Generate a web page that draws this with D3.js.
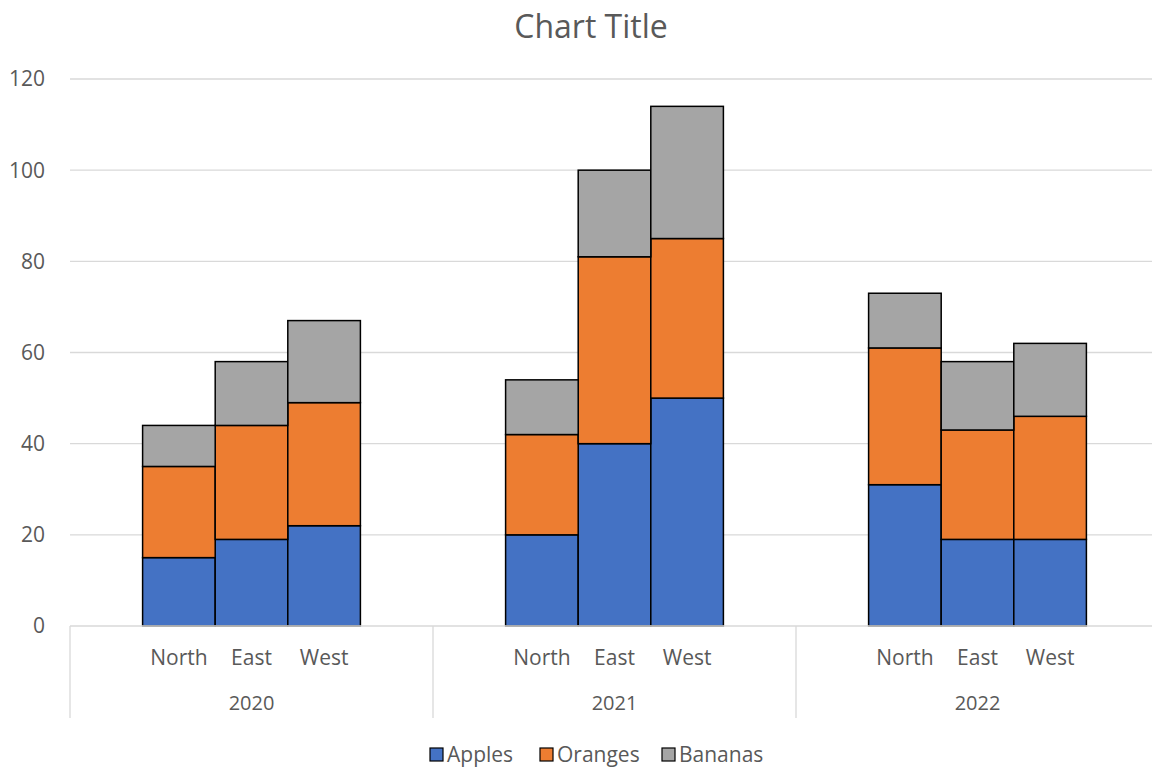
<!DOCTYPE html>
<html>
<head>
<meta charset="utf-8">
<script src="https://cdn.jsdelivr.net/npm/d3@7"></script>
<style>
  body { margin: 0; background: #fff; }
  text { font-family: "Open Sans", "Noto Sans", sans-serif; fill: #595959; }
</style>
</head>
<body>
<div class="chart"></div>
<script>
// chart data
var years = ["2020", "2021", "2022"];
var regions = ["North", "East", "West"];
var seriesNames = ["Apples", "Oranges", "Bananas"];
var apples  = [15, 19, 22, 20, 40, 50, 31, 19, 19];
var oranges = [20, 25, 27, 22, 41, 35, 30, 24, 27];
var bananas = [ 9, 14, 18, 12, 19, 29, 12, 15, 16];
var yTicks = [0, 20, 40, 60, 80, 100, 120];
var colors = ["#4472C4", "#ED7D31", "#A5A5A5"];

// svg wrapper dimensions
var svgWidth = 1152;
var svgHeight = 769;

var margin = { top: 79, right: -7, bottom: 143, left: 70 };
var width = svgWidth - margin.left - margin.right;
var height = svgHeight - margin.top - margin.bottom;

var svg = d3.select(".chart")
    .append("svg")
    .attr("width", svgWidth)
    .attr("height", svgHeight);

var chartGroup = svg.append("g")
    .attr("transform", `translate(${margin.left}, ${margin.top})`);

// build rows
var rows = [];
years.forEach(function(yr, i) {
    regions.forEach(function(rg, j) {
        var k = i * 3 + j;
        rows.push({ year: yr, region: rg, Apples: apples[k], Oranges: oranges[k], Bananas: bananas[k] });
    });
});

var stacked = d3.stack().keys(seriesNames)(rows);

// scales
var xYear = d3.scaleBand().domain(years).range([0, width]).padding(0);
// 5 slots per year: blank, North, East, West, blank
var xRegion = d3.scaleBand().domain(["_a"].concat(regions, ["_b"])).range([0, xYear.bandwidth()]).padding(0);
var yLinearScale = d3.scaleLinear().domain([0, 120]).range([height, 0]);

// gridlines
chartGroup.append("g")
    .selectAll("line")
    .data(yTicks.filter(d => d > 0))
    .enter()
    .append("line")
    .attr("x1", 0)
    .attr("x2", svgWidth - margin.left)
    .attr("y1", d => yLinearScale(d))
    .attr("y2", d => yLinearScale(d))
    .attr("stroke", "#d9d9d9")
    .attr("stroke-width", 1.3);

// y labels
chartGroup.append("g")
    .selectAll("text")
    .data(yTicks)
    .enter()
    .append("text")
    .attr("x", -25)
    .attr("y", d => yLinearScale(d))
    .attr("dy", "0.35em")
    .attr("text-anchor", "end")
    .style("font-size", "21px")
    .text(d => d);

// bars
chartGroup.selectAll("g.series")
    .data(stacked)
    .enter()
    .append("g")
    .attr("class", "series")
    .attr("fill", (d, i) => colors[i])
    .selectAll("rect")
    .data(d => d)
    .enter()
    .append("rect")
    .attr("x", d => xYear(d.data.year) + xRegion(d.data.region))
    .attr("width", xRegion.bandwidth())
    .attr("y", d => yLinearScale(d[1]))
    .attr("height", d => yLinearScale(d[0]) - yLinearScale(d[1]))
    .attr("stroke", "#000")
    .attr("stroke-width", 1.5);

// x axis line
chartGroup.append("line")
    .attr("x1", 0)
    .attr("x2", svgWidth - margin.left)
    .attr("y1", height)
    .attr("y2", height)
    .attr("stroke", "#d9d9d9")
    .attr("stroke-width", 1.3);

// group dividers
chartGroup.append("g")
    .selectAll("line")
    .data(years.concat(["end"]))
    .enter()
    .append("line")
    .attr("x1", (d, i) => i * xYear.bandwidth())
    .attr("x2", (d, i) => i * xYear.bandwidth())
    .attr("y1", height)
    .attr("y2", height + 92)
    .attr("stroke", "#d9d9d9")
    .attr("stroke-width", 1.3);

// region labels
years.forEach(function(yr) {
    chartGroup.append("g")
        .selectAll("text")
        .data(regions)
        .enter()
        .append("text")
        .attr("x", d => xYear(yr) + xRegion(d) + xRegion.bandwidth() / 2)
        .attr("y", height + 39)
        .attr("text-anchor", "middle")
        .style("font-size", "21px")
        .text(d => d);
});

// year labels
chartGroup.append("g")
    .selectAll("text")
    .data(years)
    .enter()
    .append("text")
    .attr("x", d => xYear(d) + xYear.bandwidth() / 2)
    .attr("y", height + 84)
    .attr("text-anchor", "middle")
    .style("font-size", "20px")
    .text(d => d);

// title
svg.append("text")
    .attr("x", 591)
    .attr("y", 38)
    .attr("text-anchor", "middle")
    .style("font-size", "32px")
    .text("Chart Title");

// legend
var legendX = [430, 540, 662];
var legend = svg.append("g");
seriesNames.forEach(function(name, i) {
    legend.append("rect")
        .attr("x", legendX[i])
        .attr("y", 748)
        .attr("width", 13)
        .attr("height", 13)
        .attr("fill", colors[i])
        .attr("stroke", "#000")
        .attr("stroke-width", 1.2);
    legend.append("text")
        .attr("x", legendX[i] + 17)
        .attr("y", 762)
        .style("font-size", "21px")
        .text(name);
});
</script>
</body>
</html>
